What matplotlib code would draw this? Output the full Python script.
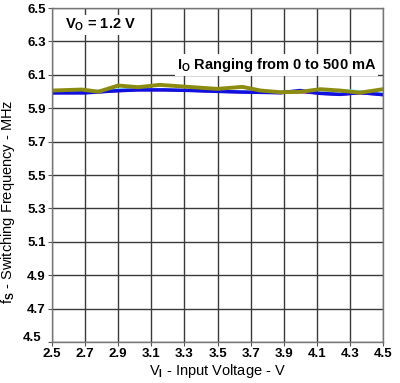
import matplotlib
matplotlib.use('Agg')
import matplotlib.pyplot as plt
import matplotlib.transforms as mtransforms

plt.rcParams['font.family'] = ['Liberation Sans', 'DejaVu Sans']
plt.rcParams['font.weight'] = 'bold'
plt.rcParams['mathtext.fontset'] = 'custom'
plt.rcParams['mathtext.rm'] = 'Liberation Sans:bold'
plt.rcParams['mathtext.it'] = 'Liberation Sans:bold'
plt.rcParams['mathtext.bf'] = 'Liberation Sans:bold'

# data (VI in V, fs in MHz)
vi_olive = [2.5, 2.68, 2.78, 2.9, 3.02, 3.15, 3.35, 3.5, 3.65, 3.76, 3.88, 4.0, 4.12, 4.24, 4.36, 4.5]
fs_olive = [6.006, 6.012, 5.999, 6.036, 6.026, 6.040, 6.026, 6.016, 6.028, 6.006, 5.996, 5.998, 6.014, 6.006, 5.993, 6.014]

vi_blue = [2.5, 2.7, 2.88, 3.02, 3.18, 3.35, 3.5, 3.65, 3.88, 4.0, 4.12, 4.24, 4.36, 4.5]
fs_blue = [5.992, 5.992, 6.004, 6.010, 6.010, 6.006, 6.001, 5.997, 5.993, 6.006, 5.989, 5.983, 5.994, 5.981]

vi_cyan = [2.5, 2.7, 2.88, 3.02, 3.18, 3.35, 3.5, 3.65, 3.88, 4.0, 4.12, 4.3, 4.5]
fs_cyan = [6.002, 6.000, 6.014, 6.014, 6.012, 6.008, 6.004, 6.000, 5.996, 6.000, 5.993, 6.008, 5.988]

vi_purple = [2.5, 2.7, 2.88, 3.02, 3.18, 3.35, 3.5, 3.65, 3.88, 4.0, 4.12, 4.24, 4.36, 4.5]
fs_purple = [5.988, 5.989, 6.000, 6.006, 6.006, 6.002, 5.997, 5.993, 5.989, 5.994, 5.985, 5.979, 5.987, 5.979]

x_ticks = [2.5, 2.7, 2.9, 3.1, 3.3, 3.5, 3.7, 3.9, 4.1, 4.3, 4.5]
y_ticks = [4.5, 4.7, 4.9, 5.1, 5.3, 5.5, 5.7, 5.9, 6.1, 6.3, 6.5]

fig = plt.figure(figsize=(4.0, 3.83), dpi=100)
ax = fig.add_axes([0.13, 0.107, 0.8275, 0.872])

ax.plot(vi_purple, fs_purple, color='#8a1a9a', lw=1.2)
ax.plot(vi_cyan, fs_cyan, color='#7fe8f0', lw=1.5)
ax.plot(vi_blue, fs_blue, color='#1010e0', lw=2.5)
ax.plot(vi_olive, fs_olive, color='#8c8c10', lw=2.8)

ax.set_xlim(2.5, 4.5)
ax.set_ylim(4.5, 6.5)
ax.set_xticks(x_ticks)
ax.set_yticks(y_ticks)
ax.set_xticklabels([f'{v:.1f}' for v in x_ticks])
ax.set_yticklabels([f'{v:.1f}' for v in y_ticks])
ax.tick_params(direction='out', length=3, width=0.8, color='#555555',
               labelsize=9.5, pad=1.5)
ax.grid(True, color='#3a3a3a', lw=1.0)
ax.set_axisbelow(True)
for s in ax.spines.values():
    s.set_color('#777777')
    s.set_linewidth(1.0)

# the corner label 4.5 sits up and left, as in the reference
lbl = ax.get_yticklabels()[0]
lbl.set_transform(lbl.get_transform() + mtransforms.ScaledTranslation(-3 / 72, 4 / 72, fig.dpi_scale_trans))

ax.set_xlabel(r'V$_\mathrm{I}$ - Input Voltage - V', fontsize=10.5, labelpad=1)
ax.set_ylabel(r'f$_\mathrm{S}$ - Switching Frequency - MHz', fontsize=10.5)
ax.yaxis.set_label_coords(-0.105, 0.42)

ax.text(2.58, 6.40, r'V$_\mathrm{O}$ = 1.2 V', fontsize=10.5, va='center', ha='left',
        bbox=dict(facecolor='white', edgecolor='none', pad=1.5))
ax.text(3.857, 6.16, r'I$_\mathrm{O}$ Ranging from 0 to 500 mA', fontsize=10.5,
        va='center', ha='center',
        bbox=dict(facecolor='white', edgecolor='none', pad=1.5))

fig.savefig('out.png', dpi=100)
